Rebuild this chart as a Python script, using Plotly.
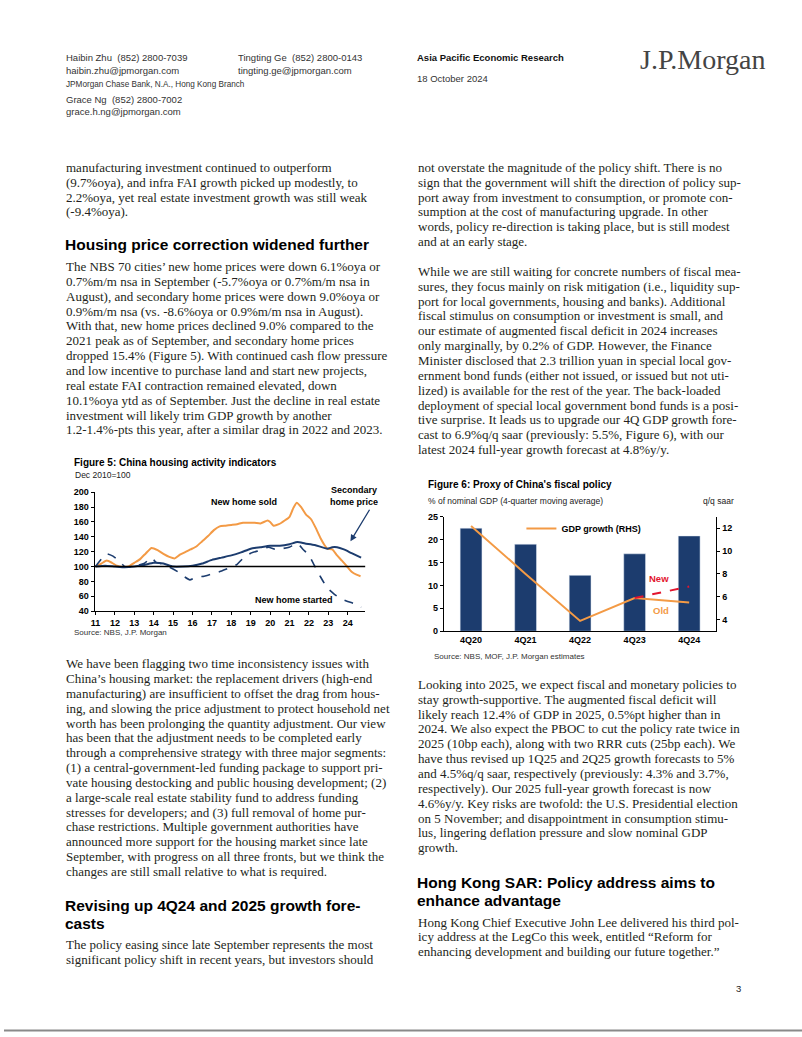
import plotly.graph_objects as go

W, H = 802, 1037


def px(x):
    return x / W


def py(y):
    return 1 - y / H


# ---------------- Figure 5 data: China housing activity indicators (Dec 2010=100)
year_ticks = list(range(11, 25))
sold_x = [11.0, 11.3, 11.58, 11.85, 12.1, 12.4, 12.7, 13.0, 13.3, 13.6, 13.89, 14.2, 14.5, 14.8,
          15.09, 15.35, 15.6, 15.9, 16.2, 16.5, 16.8, 17.1, 17.4, 17.7, 18.0, 18.3, 18.6, 18.9,
          19.2, 19.5, 19.87, 20.0, 20.18, 20.45, 20.75, 21.0, 21.2, 21.37, 21.6, 21.85, 22.1,
          22.35, 22.6, 22.8, 22.95, 23.2, 23.45, 23.7, 24.0, 24.2, 24.45, 24.66]
sold_y = [100, 104, 108, 105, 101, 99.5, 100, 105, 110, 118, 125, 122, 117, 113,
          111, 116, 119, 123, 127, 134, 141, 149, 154, 155, 156, 157, 159, 159,
          159, 158, 162, 160, 155, 157, 162, 167, 179, 186, 180, 170, 164,
          152, 138, 129, 124, 123, 115, 108, 99, 93, 89, 87]
sec_x = [11.0, 11.5, 12.0, 12.5, 13.0, 13.5, 14.0, 14.5, 15.0, 15.5, 16.0, 16.5, 17.0, 17.5,
         18.0, 18.5, 19.0, 19.5, 20.0, 20.5, 21.0, 21.41, 21.8, 22.3, 22.95, 23.2, 23.45, 23.8,
         24.2, 24.69]
sec_y = [100, 101, 100, 99, 100, 102, 105, 104, 100, 100, 101, 104, 109, 112,
         115, 119, 124, 126, 128, 128, 130, 133, 131, 129, 124, 126, 126, 123,
         118, 112]
st_x = [11.0, 11.3, 11.58, 11.9, 12.2, 12.5, 12.8, 13.1, 13.5, 13.89, 14.1, 14.5, 14.9, 15.3,
        15.6, 15.86, 16.2, 16.6, 17.0, 17.5, 17.99, 18.3, 18.6, 19.0, 19.5, 19.9, 20.3, 20.6,
        20.98, 21.41, 21.7, 22.0, 22.27, 22.6, 22.95, 23.3, 23.63, 24.0, 24.35, 24.69]
st_y = [100, 110, 117, 114, 108, 100, 99, 101, 104, 112, 106, 103, 98, 92,
        86, 82, 86, 87, 90, 94, 99, 103, 111, 118, 122, 126, 123, 124,
        126, 131, 123, 115, 102, 86, 71, 63, 57, 53, 50, 45]
base_index = 100

# ---------------- Figure 6 data: Proxy of China's fiscal policy
quarters = ["4Q20", "4Q21", "4Q22", "4Q23", "4Q24"]
fiscal_pct_gdp = [22.5, 19.0, 12.2, 16.9, 20.8]
gdp_growth_old = [12.2, 8.0, 3.9, 5.9, 5.5]
new_quarters = ["4Q23", "4Q24"]
gdp_growth_new = [5.9, 6.9]

NAVY = "#1C3C6E"
ORANGE = "#F39A45"
RED = "#E3152E"
TXT = "#231F20"
SANS = "Liberation Sans"
SERIF = "Liberation Serif"

fig = go.Figure()

# Figure 5 traces
fig.add_trace(go.Scatter(x=sold_x, y=sold_y, mode="lines", line=dict(color=ORANGE, width=2, shape="spline", smoothing=0.5),
                         xaxis="x", yaxis="y", showlegend=False, name="New home sold"))
fig.add_trace(go.Scatter(x=sec_x, y=sec_y, mode="lines", line=dict(color=NAVY, width=2, shape="spline", smoothing=0.5),
                         xaxis="x", yaxis="y", showlegend=False, name="Secondary home price"))
fig.add_trace(go.Scatter(x=st_x, y=st_y, mode="lines", line=dict(color=NAVY, width=1.6, dash="dash", shape="spline", smoothing=0.5),
                         xaxis="x", yaxis="y", showlegend=False, name="New home started"))
fig.add_shape(type="line", xref="x domain", x0=0, x1=1, yref="y", y0=base_index, y1=base_index,
              line=dict(color="black", width=1.5))

# Figure 6 traces
fig.add_trace(go.Bar(x=quarters, y=fiscal_pct_gdp, marker_color=NAVY, width=0.4, xaxis="x2", yaxis="y2",
                     showlegend=False, name="Fiscal"))
fig.add_trace(go.Scatter(x=quarters, y=gdp_growth_old, mode="lines", line=dict(color=ORANGE, width=2),
                         xaxis="x2", yaxis="y3", name="GDP growth (RHS)", showlegend=True))
fig.add_trace(go.Scatter(x=new_quarters, y=gdp_growth_new, mode="lines", line=dict(color=RED, width=2, dash="dash"),
                         xaxis="x2", yaxis="y3", showlegend=False, name="New"))

tickfont = dict(family=SANS, size=9, color="black", weight="bold")
axis_common = dict(showline=True, linecolor="black", linewidth=1, showgrid=False, zeroline=False,
                   ticks="outside", ticklen=3, tickcolor="black", tickfont=tickfont)

fig.update_layout(
    width=W, height=H, autosize=False,
    margin=dict(l=0, r=0, t=0, b=0),
    paper_bgcolor="white", plot_bgcolor="rgba(0,0,0,0)",
    xaxis=dict(domain=[px(91), px(363)], range=[10.95, 24.9], anchor="y",
               tickvals=year_ticks, ticktext=[str(t) for t in year_ticks], **axis_common),
    yaxis=dict(domain=[py(612), py(492)], range=[40, 200], dtick=20, anchor="x", **axis_common),
    xaxis2=dict(domain=[px(442), px(716)], anchor="y2", type="category", showline=True, linecolor="black",
                linewidth=1, showgrid=False, zeroline=False, ticks="", tickfont=tickfont),
    yaxis2=dict(domain=[py(632.3), py(516.7)], range=[0, 25], dtick=5, anchor="x2", **axis_common),
    yaxis3=dict(domain=[py(632.3), py(516.7)], range=[3, 13], dtick=2, anchor="x2", overlaying="y2",
                side="right", **axis_common),
    legend=dict(x=px(520), y=py(514), xanchor="left", yanchor="top", bgcolor="rgba(0,0,0,0)",
                font=dict(family=SANS, size=9, color="black", weight="bold"), itemwidth=30),
    showlegend=True,
)

ann = []
PAD = 2  # annotation inner padding compensation


def text(x, y, s, size=13, family=SERIF, color=TXT, bold=False, anchor="left"):
    xx = x - PAD if anchor == "left" else (x + PAD if anchor == "right" else x)
    ann.append(dict(x=px(xx), y=py(y), xref="paper", yref="paper", text=s, showarrow=False,
                    xanchor=anchor, yanchor="middle",
                    font=dict(family=family, size=size, color=color, weight="bold" if bold else "normal")))


def block(x, y0, lines, dy=15, **kw):
    for i, s in enumerate(lines):
        text(x, y0 + i * dy, s, **kw)


# Header
HDR = "#333333"
block(62, 53, ["Haibin Zhu  (852) 2800-7039", "haibin.zhu@jpmorgan.com"], dy=13, size=9.5, family=SANS, color=HDR)
text(62, 80, "JPMorgan Chase Bank, N.A., Hong Kong Branch", size=8.2, family=SANS, color=HDR)
block(62, 95, ["Grace Ng  (852) 2800-7002", "grace.h.ng@jpmorgan.com"], dy=13, size=9.5, family=SANS, color=HDR)
block(235, 53, ["Tingting Ge  (852) 2800-0143", "tingting.ge@jpmorgan.com"], dy=13, size=9.5, family=SANS, color=HDR)
text(415, 53, "Asia Pacific Economic Research", size=9.5, family=SANS, color="#111111", bold=True)
text(415, 74, "18 October 2024", size=9.5, family=SANS, color=HDR)
text(639, 55, "J.P.Morgan", size=28, family=SERIF, color="#444444")

# Left column
block(62, 164, [
    "manufacturing investment continued to outperform",
    "(9.7%oya), and infra FAI growth picked up modestly, to",
    "2.2%oya, yet real estate investment growth was still weak",
    "(-9.4%oya).",
])
text(61, 242, "Housing price correction widened further", size=15.5, family=SANS, color="black", bold=True)
block(62, 264, [
    "The NBS 70 cities’ new home prices were down 6.1%oya or",
    "0.7%m/m nsa in September (-5.7%oya or 0.7%m/m nsa in",
    "August), and secondary home prices were down 9.0%oya or",
    "0.9%m/m nsa (vs. -8.6%oya or 0.9%m/m nsa in August).",
    "With that, new home prices declined 9.0% compared to the",
    "2021 peak as of September, and secondary home prices",
    "dropped 15.4% (Figure 5). With continued cash flow pressure",
    "and low incentive to purchase land and start new projects,",
    "real estate FAI contraction remained elevated, down",
    "10.1%oya ytd as of September. Just the decline in real estate",
    "investment will likely trim GDP growth by another",
    "1.2-1.4%-pts this year, after a similar drag in 2022 and 2023.",
])

# Figure 5 texts
text(70, 462, "Figure 5: China housing activity indicators", size=10, family=SANS, color="black", bold=True)
text(71, 475, "Dec 2010=100", size=8.5, family=SANS, color="#222222")
text(70, 634, "Source: NBS, J.P. Morgan", size=8, family=SANS, color="#333333")
ann.append(dict(x=18.67, y=187, xref="x", yref="y", text="New home sold", showarrow=False,
                font=dict(family=SANS, size=9, color="black", weight="bold")))
ann.append(dict(x=21.24, y=55, xref="x", yref="y", text="New home started", showarrow=False,
                font=dict(family=SANS, size=9, color="black", weight="bold")))
ann.append(dict(x=px(352), y=py(496), xref="paper", yref="paper", text="Secondary<br>home price", showarrow=False,
                font=dict(family=SANS, size=9, color="black", weight="bold")))
ann.append(dict(x=24.14, y=134, xref="x", yref="y", text="", showarrow=True, ax=20, ay=-33,
                arrowhead=2, arrowsize=1, arrowwidth=1.3, arrowcolor=NAVY))

block(62, 665, [
    "We have been flagging two time inconsistency issues with",
    "China’s housing market: the replacement drivers (high-end",
    "manufacturing) are insufficient to offset the drag from hous-",
    "ing, and slowing the price adjustment to protect household net",
    "worth has been prolonging the quantity adjustment. Our view",
    "has been that the adjustment needs to be completed early",
    "through a comprehensive strategy with three major segments:",
    "(1) a central-government-led funding package to support pri-",
    "vate housing destocking and public housing development; (2)",
    "a large-scale real estate stability fund to address funding",
    "stresses for developers; and (3) full removal of home pur-",
    "chase restrictions. Multiple government authorities have",
    "announced more support for the housing market since late",
    "September, with progress on all three fronts, but we think the",
    "changes are still small relative to what is required.",
])
block(61, 909, ["Revising up 4Q24 and 2025 growth fore-", "casts"], dy=18.5, size=15.5, family=SANS,
      color="black", bold=True)
block(62, 949, [
    "The policy easing since late September represents the most",
    "significant policy shift in recent years, but investors should",
])

# Right column
block(416, 164, [
    "not overstate the magnitude of the policy shift. There is no",
    "sign that the government will shift the direction of policy sup-",
    "port away from investment to consumption, or promote con-",
    "sumption at the cost of manufacturing upgrade. In other",
    "words, policy re-direction is taking place, but is still modest",
    "and at an early stage.",
])
block(416, 269, [
    "While we are still waiting for concrete numbers of fiscal mea-",
    "sures, they focus mainly on risk mitigation (i.e., liquidity sup-",
    "port for local governments, housing and banks). Additional",
    "fiscal stimulus on consumption or investment is small, and",
    "our estimate of augmented fiscal deficit in 2024 increases",
    "only marginally, by 0.2% of GDP. However, the Finance",
    "Minister disclosed that 2.3 trillion yuan in special local gov-",
    "ernment bond funds (either not issued, or issued but not uti-",
    "lized) is available for the rest of the year. The back-loaded",
    "deployment of special local government bond funds is a posi-",
    "tive surprise. It leads us to upgrade our 4Q GDP growth fore-",
    "cast to 6.9%q/q saar (previously: 5.5%, Figure 6), with our",
    "latest 2024 full-year growth forecast at 4.8%y/y.",
])

# Figure 6 texts
text(426, 484, "Figure 6: Proxy of China's fiscal policy", size=10, family=SANS, color="black", bold=True)
text(426, 501, "% of nominal GDP (4-quarter moving average)", size=8.5, family=SANS, color="#222222")
text(734, 501, "q/q saar", size=8.5, family=SANS, color="#222222", anchor="right")
text(432, 658, "Source: NBS, MOF, J.P. Morgan estimates", size=8, family=SANS, color="#333333")
text(658, 579, "New", size=9.5, family=SANS, color=RED, bold=True, anchor="center")
text(660, 611, "Old", size=9.5, family=SANS, color=ORANGE, bold=True, anchor="center")

block(416, 686, [
    "Looking into 2025, we expect fiscal and monetary policies to",
    "stay growth-supportive. The augmented fiscal deficit will",
    "likely reach 12.4% of GDP in 2025, 0.5%pt higher than in",
    "2024. We also expect the PBOC to cut the policy rate twice in",
    "2025 (10bp each), along with two RRR cuts (25bp each). We",
    "have thus revised up 1Q25 and 2Q25 growth forecasts to 5%",
    "and 4.5%q/q saar, respectively (previously: 4.3% and 3.7%,",
    "respectively). Our 2025 full-year growth forecast is now",
    "4.6%y/y. Key risks are twofold: the U.S. Presidential election",
    "on 5 November; and disappointment in consumption stimu-",
    "lus, lingering deflation pressure and slow nominal GDP",
    "growth.",
])
block(415, 886, ["Hong Kong SAR: Policy address aims to", "enhance advantage"], dy=18.5, size=15.5,
      family=SANS, color="black", bold=True)
block(416, 926, [
    "Hong Kong Chief Executive John Lee delivered his third pol-",
    "icy address at the LegCo this week, entitled “Reform for",
    "enhancing development and building our future together.”",
])
text(738, 993, "3", size=9.5, family=SANS, color="#222222", anchor="center")

fig.update_layout(annotations=ann)
fig.add_shape(type="line", xref="paper", yref="paper", x0=0, x1=1, y0=py(1035.5), y1=py(1035.5),
              line=dict(color="#8a8a8a", width=2))

fig.write_html("out.html", config={"displayModeBar": False},
               post_script="document.body.style.margin='0';document.body.style.overflow='hidden';")
